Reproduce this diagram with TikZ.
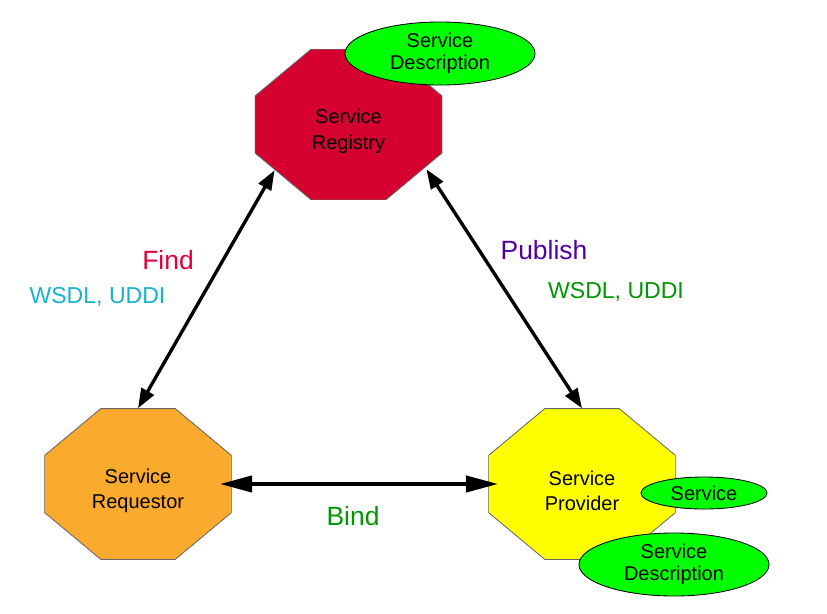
\documentclass[tikz,border=0pt]{standalone}
\usepackage{fontspec}
\setmainfont{Liberation Sans}
\usetikzlibrary{arrows.meta}
\usetikzlibrary{shapes.geometric}

\definecolor{registryred}{RGB}{214,0,48}
\definecolor{requestororange}{RGB}{250,170,45}
\definecolor{provideryellow}{RGB}{255,255,0}
\definecolor{descgreen}{RGB}{0,255,0}
\definecolor{findred}{RGB}{225,0,60}
\definecolor{findcyan}{RGB}{20,180,200}
\definecolor{publishindigo}{RGB}{80,0,165}
\definecolor{labelgreen}{RGB}{0,150,0}
% taller first line, so the two lines sit a little low
\newcommand{\octtop}{\rule{0pt}{20pt}}
\newcommand{\ppbb}{path picture bounding box}

\begin{document}
\begin{tikzpicture}[x=0.025cm,y=-0.025cm,
  octa/.style={rectangle,inner sep=0pt,minimum width=4.68cm,minimum height=3.77cm,align=center,font=\fontsize{14.2}{18.3}\selectfont,
    path picture={\draw [draw=black!60,line width=0.6pt,fill=#1]
      ([xshift=1.41cm]\ppbb.north west) -- ([xshift=-1.41cm]\ppbb.north east) -- ([yshift=-1.175cm]\ppbb.north east)
      -- ([yshift=1.175cm]\ppbb.south east) -- ([xshift=-1.41cm]\ppbb.south east) -- ([xshift=1.41cm]\ppbb.south west)
      -- ([yshift=1.175cm]\ppbb.south west) -- ([yshift=-1.175cm]\ppbb.north west) -- cycle;}},
  desc/.style={ellipse,draw=black,line width=0.6pt,fill=descgreen,inner sep=0pt,align=center,font=\fontsize{14.2}{16}\selectfont},
  link/.style={<->,>={Triangle[length=14pt,width=10pt]},line width=2.4pt},
  linktext/.style={anchor=base,font=\fontsize{18.8}{22}\selectfont},
  prototext/.style={anchor=base,font=\fontsize{16.4}{20}\selectfont}]
\useasboundingbox (0,0) rectangle (827,613);
\node at (348.5,124.5) (reg) [octa=registryred] {\octtop Service\\Registry};
\node at (440,53.5) (regdesc) [desc,minimum width=4.75cm,minimum height=1.575cm] {Service\\Description};
\node at (138,484) (req) [octa=requestororange] {\octtop Service\\Requestor};
\node at (582,484) (prov) [octa=provideryellow] {\octtop Service\\Provider};
\node at (704,493) (svc) [desc,minimum width=3.15cm,minimum height=0.8cm] {Service};
\node at (674,564.5) (provdesc) [desc,minimum width=4.75cm,minimum height=1.575cm] {Service\\Description};
\draw [link] (req.north) -- ([shift={(20,-30)}]reg.south west);
\draw [link] ([shift={(-16,-31)}]reg.south east) -- (prov.north);
\draw [link,line width=2.8pt,>={Triangle[length=23pt,width=11.5pt]},shorten <=-0.3cm,shorten >=-0.25cm] (req.east) -- (prov.west);
\node at (168,269) (find) [linktext,text=findred] {Find};
\node at (97.5,303) (findproto) [prototext,text=findcyan] {WSDL, UDDI};
\node at (544,259) (publish) [linktext,text=publishindigo] {Publish};
\node at (616,298) (publishproto) [prototext,text=labelgreen] {WSDL, UDDI};
\node at (353,525) (bind) [linktext,text=labelgreen] {Bind};
\end{tikzpicture}
\end{document}
